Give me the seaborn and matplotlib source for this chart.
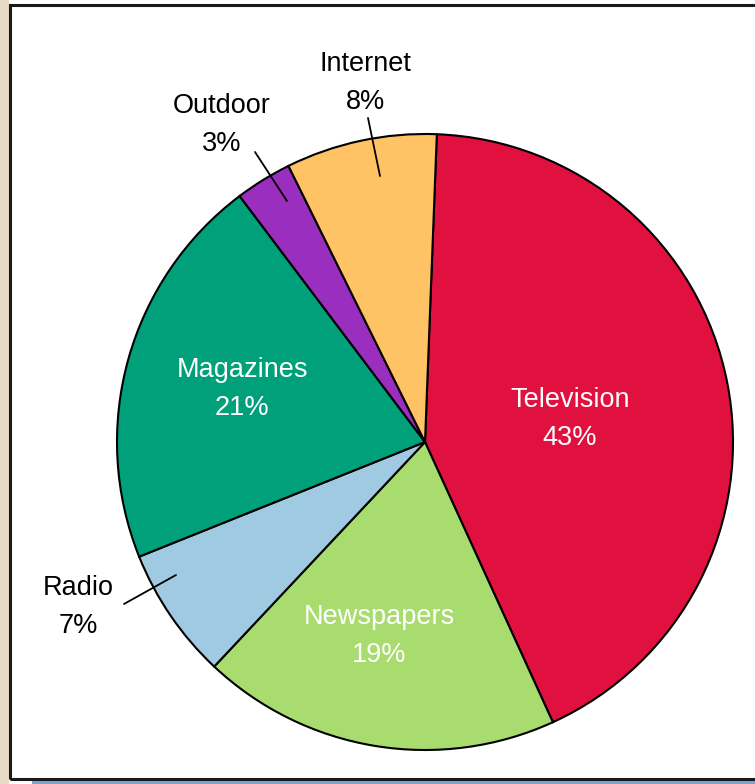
import matplotlib
matplotlib.use("Agg")
import matplotlib.pyplot as plt
import seaborn as sns
from matplotlib.patches import Rectangle

categories = ["Television", "Newspapers", "Radio", "Magazines", "Outdoor", "Internet"]
shares = [43, 19, 7, 21, 3, 8]
label_text = ["Television\n43%", "Newspapers\n19%", "Radio\n7%", "Magazines\n21%", "Outdoor\n3%", "Internet\n8%"]
colors = ["#E0103F", "#A8DC6E", "#A0CAE2", "#00A07A", "#9A2EBE", "#FFC366"]

sns.set_theme(style="white")
plt.rcParams["font.family"] = ["Liberation Sans Narrow", "Liberation Sans", "DejaVu Sans"]

W, H = 755, 784
fig = plt.figure(figsize=(W / 100, H / 100), dpi=100)
fig.patch.set_facecolor("white")

# page decoration
fig.patches.append(Rectangle((0, 0), 9 / W, 1, transform=fig.transFigure, facecolor="#E6DCC4", edgecolor="none", zorder=0))
fig.patches.append(Rectangle((32 / W, 0), 1, 3.5 / H, transform=fig.transFigure, facecolor="#7FA3D0", edgecolor="none", zorder=0))
fig.patches.append(Rectangle((9.5 / W, 5.5 / H), 1, (779 - 5) / H, transform=fig.transFigure,
                             facecolor="none", edgecolor="#1a1a1a", linewidth=2.2, zorder=1))

cx, cy, r = 425, 442, 308
ax = fig.add_axes([(cx - r) / W, (H - cy - r) / H, 2 * r / W, 2 * r / H])
wedges, _ = ax.pie(shares, colors=colors, startangle=87.8, counterclock=False, radius=1.0,
                   wedgeprops=dict(edgecolor="black", linewidth=1.5))
ax.set_xlim(-1, 1)
ax.set_ylim(-1, 1)
ax.set_aspect("equal")
ax.axis("off")

def d(px, py):
    return ((px - cx) / r, (cy - py) / r)

label_pos = [d(570, 419), d(379, 636), d(78, 607), d(242, 389), d(222, 125), d(365, 83)]
label_col = ["white", "white", "black", "white", "black", "black"]
for txt, (x, y), c in zip(label_text, label_pos, label_col):
    ax.text(x, y, txt, ha="center", va="center", color=c, fontsize=19.5, linespacing=1.6)

leaders = [(d(124, 604), d(176, 575)), (d(255, 152), d(287, 201)), (d(368, 118), d(380, 176))]
for (x0, y0), (x1, y1) in leaders:
    ax.plot([x0, x1], [y0, y1], color="black", linewidth=1.3, clip_on=False)

fig.savefig("out.png", dpi=100, facecolor=fig.get_facecolor())
